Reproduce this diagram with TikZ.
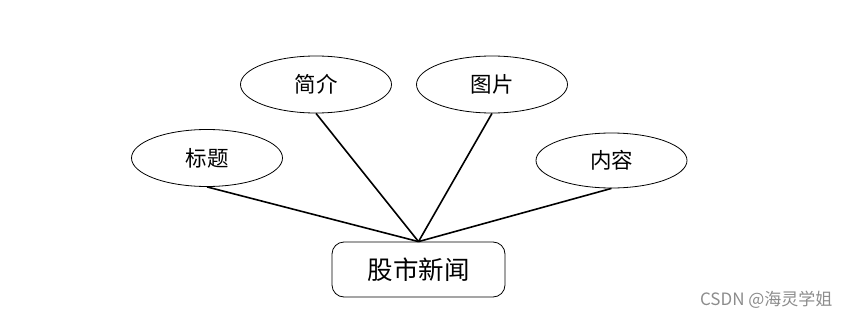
\documentclass[tikz,border=0pt]{standalone}
\usepackage{fontspec}
\newfontfamily\cjk{Noto Sans CJK SC}
\usetikzlibrary{shapes.geometric}
\tikzset{
  attr/.style={ellipse, draw=black, line width=0.8pt, minimum width=151pt, minimum height=57pt, inner sep=0pt, font=\cjk\fontsize{21.5}{23}\selectfont},
  ent/.style={rectangle, rounded corners=12pt, draw=black, line width=0.8pt, minimum width=173pt, minimum height=55pt, inner sep=0pt, font=\cjk\fontsize{25.5}{27}\selectfont},
  link/.style={draw=black, line width=1.6pt}
}
\begin{document}
\begin{tikzpicture}[x=1pt,y=-1pt]
\useasboundingbox (0,0) rectangle (850,318);
\node[ent] (e) at (418.5,269.5) {股市新闻};
\node[attr] (a1) at (207,158) {标题};
\node[attr] (a2) at (316,84.5) {简介};
\node[attr] (a3) at (492,84.5) {图片};
\node[attr, minimum height=55pt] (a4) at (611.5,160.5) {内容};
\draw[link] (a1.south) -- (e.north);
\draw[link] (a2.south) -- (e.north);
\draw[link] (a3.south) -- (e.north);
\draw[link] (a4.south) -- (e.north);
\node[text=black!45, font=\cjk\fontsize{17}{19}\selectfont, anchor=east] (wm) at (836,300) {CSDN @海灵学姐};
\end{tikzpicture}
\end{document}
